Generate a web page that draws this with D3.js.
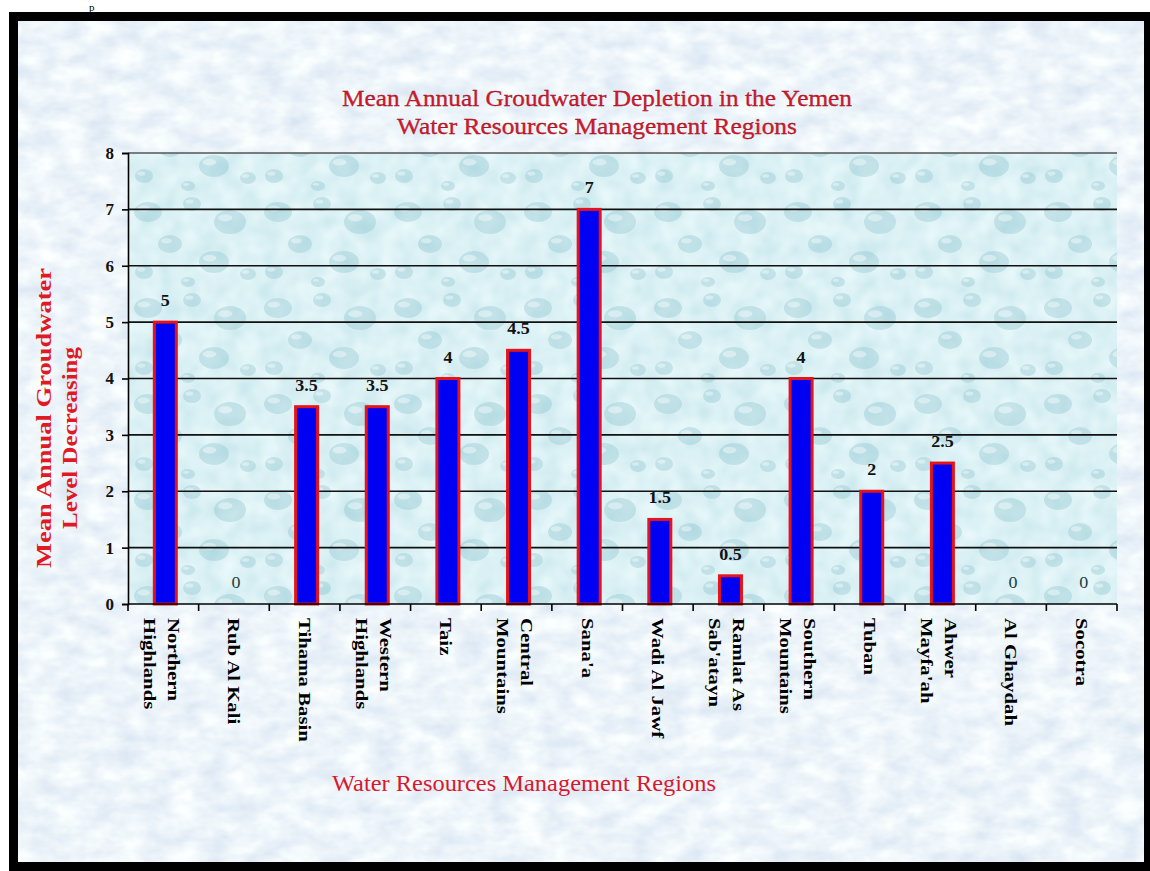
<!DOCTYPE html>
<html>
<head>
<meta charset="utf-8">
<script src="https://cdn.jsdelivr.net/npm/d3@7"></script>
<style>
  body { margin: 0; background: #fff; }
  svg { display: block; }
</style>
</head>
<body>
<div id="chart"></div>
<script>
// chart data
const regions = ["Northern Highlands", "Rub Al Kali", "Tihama Basin", "Western Highlands", "Taiz",
    "Central Mountains", "Sana'a", "Wadi Al Jawf", "Ramlat As Sab'atayn", "Southern Mountains",
    "Tuban", "Ahwar Mayfa'ah", "Al Ghaydah", "Socotra"]
const regionLabels = [["Northern", "Highlands"], ["Rub Al Kali"], ["Tihama Basin"], ["Western", "Highlands"],
    ["Taiz"], ["Central", "Mountains"], ["Sana'a"], ["Wadi Al Jawf"], ["Ramlat As", "Sab'atayn"],
    ["Southern", "Mountains"], ["Tuban"], ["Ahwer", "Mayfa'ah"], ["Al Ghaydah"], ["Socotra"]]
const depletion = [5, 0, 3.5, 3.5, 4, 4.5, 7, 1.5, 0.5, 4, 2, 2.5, 0, 0]
const yTicks = [0, 1, 2, 3, 4, 5, 6, 7, 8]
const titleLines = ["Mean Annual Groudwater Depletion in the Yemen", "Water Resources Management Regions"]
const yTitleLines = ["Mean Annual Groudwater", "Level Decreasing"]
const xTitle = "Water Resources Management Regions"

const width = 1150
const height = 871
const plot = { left: 128, right: 1117, top: 153, bottom: 604 }
const serif = "'Times New Roman', 'Liberation Serif', Tinos, 'DejaVu Serif', serif"
const red = "#d8182c"

const svg = d3.select("#chart").append("svg")
    .attr("width", width)
    .attr("height", height)

const defs = svg.append("defs")

// paper texture for the slide
const paper = defs.append("filter").attr("id", "paper")
    .attr("x", 0).attr("y", 0).attr("width", 1).attr("height", 1)
paper.append("feTurbulence").attr("type", "fractalNoise")
    .attr("baseFrequency", "0.035 0.06").attr("numOctaves", 3).attr("seed", 4)
paper.append("feColorMatrix").attr("type", "matrix")
    .attr("values", "0.38 0 0 0 0.66  0.30 0 0 0 0.76  0.14 0 0 0 0.885  0 0 0 0 1")

// water texture for the plot area
const water = defs.append("filter").attr("id", "water")
    .attr("x", 0).attr("y", 0).attr("width", 1).attr("height", 1)
water.append("feTurbulence").attr("type", "fractalNoise")
    .attr("baseFrequency", "0.05").attr("numOctaves", 2).attr("seed", 9)
water.append("feColorMatrix").attr("type", "matrix")
    .attr("values", "0.30 0 0 0 0.56  0.18 0 0 0 0.79  0.14 0 0 0 0.84  0 0 0 0 1")

const drops = defs.append("pattern").attr("id", "drops")
    .attr("patternUnits", "userSpaceOnUse").attr("width", 130).attr("height", 96)
const dropSpots = [[18, 20, 14, 10], [62, 12, 9, 7], [100, 30, 16, 12], [40, 52, 12, 9],
    [84, 70, 15, 11], [14, 80, 9, 7], [118, 82, 8, 6], [58, 90, 7, 5]]
dropSpots.forEach(([cx, cy, rx, ry]) => {
    drops.append("ellipse").attr("cx", cx).attr("cy", cy).attr("rx", rx).attr("ry", ry)
        .attr("fill", "#86bfcc").attr("fill-opacity", 0.35)
    drops.append("ellipse").attr("cx", cx - rx * 0.3).attr("cy", cy - ry * 0.35)
        .attr("rx", rx * 0.45).attr("ry", ry * 0.3)
        .attr("fill", "#ffffff").attr("fill-opacity", 0.4)
})

// slide background and frame
svg.append("rect").attr("x", 9).attr("y", 12).attr("width", width - 9).attr("height", height - 12)
    .attr("fill", "#000")
svg.append("rect").attr("x", 18).attr("y", 21).attr("width", 1126).attr("height", 841)
    .attr("filter", "url(#paper)")
svg.append("text").attr("x", 89).attr("y", 11).attr("font-family", serif).attr("font-size", 11)
    .text("p")

// plot area
svg.append("rect").attr("x", plot.left).attr("y", plot.top)
    .attr("width", plot.right - plot.left).attr("height", plot.bottom - plot.top)
    .attr("filter", "url(#water)")
svg.append("rect").attr("x", plot.left).attr("y", plot.top)
    .attr("width", plot.right - plot.left).attr("height", plot.bottom - plot.top)
    .attr("fill", "url(#drops)")

const x = d3.scaleBand()
    .domain(regions)
    .range([plot.left, plot.right])
    .padding(0)

const y = d3.scaleLinear()
    .domain([0, 8])
    .range([plot.bottom, plot.top])

// gridlines
svg.append("g")
    .selectAll("line")
    .data(yTicks.filter(d => d > 0))
    .join("line")
    .attr("x1", plot.left)
    .attr("x2", plot.right)
    .attr("y1", d => y(d))
    .attr("y2", d => y(d))
    .attr("stroke", d => d === 8 ? "#555" : "#111")
    .attr("stroke-width", 1.6)

// bars
const barW = 22
svg.append("g")
    .selectAll("rect")
    .data(depletion.map((v, i) => ({ region: regions[i], value: v })).filter(d => d.value > 0))
    .join("rect")
    .attr("x", d => x(d.region) + x.bandwidth() / 2 - barW / 2 + 2)
    .attr("y", d => y(d.value))
    .attr("width", barW)
    .attr("height", d => y(0) - y(d.value))
    .attr("fill", "#0000f2")
    .attr("stroke", "#e4141c")
    .attr("stroke-width", 3)

// value labels
svg.append("g")
    .selectAll("text")
    .data(depletion.map((v, i) => ({ region: regions[i], value: v })))
    .join("text")
    .attr("transform", d => `translate(${x(d.region) + x.bandwidth() / 2 + 2}, ${y(d.value) - 16}) scale(1.2, 1.1)`)
    .attr("text-anchor", "middle")
    .attr("font-family", serif)
    .attr("font-size", 15)
    .attr("font-weight", d => d.value > 0 ? "bold" : "normal")
    .attr("fill", d => d.value > 0 ? "#111" : "#1f3d40")
    .text(d => d.value)

// y axis
const yAxis = svg.append("g")
    .attr("transform", `translate(${plot.left}, 0)`)
    .call(d3.axisLeft(y).tickValues(yTicks).tickSize(6).tickPadding(8).tickFormat(d3.format("d")))
yAxis.select(".domain").attr("stroke", "#000").attr("stroke-width", 1.6)
yAxis.selectAll(".tick line").attr("stroke", "#000").attr("stroke-width", 1.6)
yAxis.selectAll(".tick text")
    .attr("font-family", serif)
    .attr("font-size", 17)
    .attr("font-weight", "bold")
    .attr("fill", "#111")

// x axis with ticks between categories
const xAxisG = svg.append("g").attr("transform", `translate(0, ${plot.bottom})`)
xAxisG.append("line")
    .attr("x1", plot.left).attr("x2", plot.right)
    .attr("stroke", "#000").attr("stroke-width", 1.6)
xAxisG.selectAll(".sep")
    .data(regions.concat(["end"]))
    .join("line")
    .attr("class", "sep")
    .attr("x1", (d, i) => i < regions.length ? x(d) : plot.right)
    .attr("x2", (d, i) => i < regions.length ? x(d) : plot.right)
    .attr("y1", 0)
    .attr("y2", 7)
    .attr("stroke", "#000")
    .attr("stroke-width", 1.6)

// rotated category labels
const lineGap = 24
const labelG = svg.append("g")
regions.forEach((r, i) => {
    const lines = regionLabels[i]
    const cx = x(r) + x.bandwidth() / 2
    lines.forEach((t, j) => {
        const off = lines.length === 1 ? 0 : (j === 0 ? 10 : 10 - lineGap)
        labelG.append("text")
            .attr("transform", `translate(${cx + off}, ${plot.bottom + 14}) rotate(90) scale(1.3, 1)`)
            .attr("dominant-baseline", "central")
            .attr("font-family", serif)
            .attr("font-size", 16)
            .attr("font-weight", "bold")
            .attr("fill", "#000")
            .text(t)
    })
})

// chart title
svg.append("g")
    .selectAll("text")
    .data(titleLines)
    .join("text")
    .attr("x", 597)
    .attr("y", (d, i) => 106 + i * 28)
    .attr("text-anchor", "middle")
    .attr("font-family", serif)
    .attr("font-size", 24)
    .attr("fill", red)
    .attr("stroke", "#8a1020")
    .attr("stroke-width", 0.3)
    .attr("textLength", (d, i) => i === 0 ? 510 : 400)
    .attr("lengthAdjust", "spacingAndGlyphs")
    .text(d => d)

// y axis title
svg.append("g")
    .selectAll("text")
    .data(yTitleLines)
    .join("text")
    .attr("transform", (d, i) => `translate(${44 + i * 26}, ${418 + i * 20}) rotate(-90)`)
    .attr("text-anchor", "middle")
    .attr("dominant-baseline", "central")
    .attr("font-family", serif)
    .attr("font-size", 21)
    .attr("font-weight", "bold")
    .attr("fill", "#e01a22")
    .attr("textLength", (d, i) => i === 0 ? 300 : 182)
    .attr("lengthAdjust", "spacingAndGlyphs")
    .text(d => d)

// x axis title
svg.append("text")
    .attr("x", 524)
    .attr("y", 791)
    .attr("text-anchor", "middle")
    .attr("font-family", serif)
    .attr("font-size", 23)
    .attr("fill", red)
    .attr("textLength", 384)
    .attr("lengthAdjust", "spacingAndGlyphs")
    .text(xTitle)
</script>
</body>
</html>
